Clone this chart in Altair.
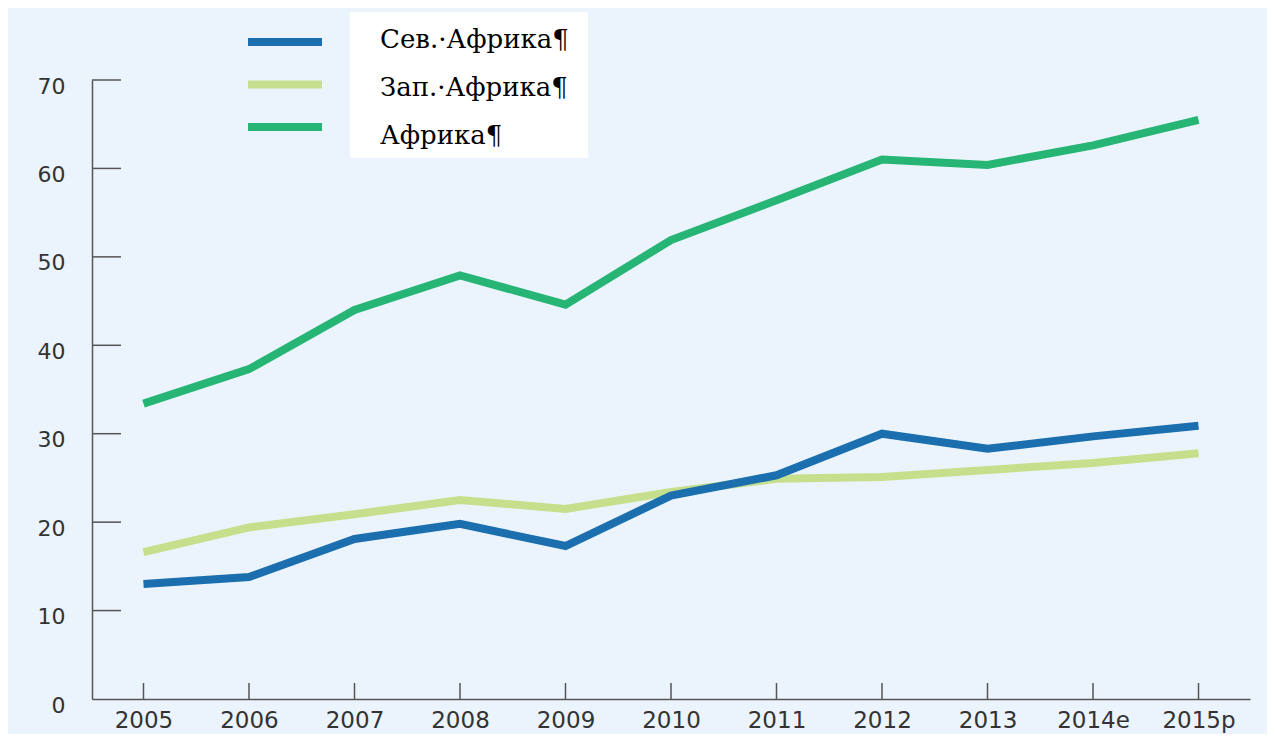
import altair as alt
import pandas as pd

years = ["2005", "2006", "2007", "2008", "2009", "2010", "2011", "2012", "2013", "2014e", "2015p"]
series_names = ["Сев.·Африка¶", "Зап.·Африка¶", "Африка¶"]
north = [13.0, 13.8, 18.1, 19.8, 17.3, 23.0, 25.3, 30.0, 28.3, 29.7, 30.9]
west = [16.6, 19.4, 20.9, 22.5, 21.5, 23.4, 24.9, 25.1, 25.9, 26.7, 27.8]
africa = [33.4, 37.3, 44.0, 47.9, 44.6, 51.9, 56.4, 61.0, 60.4, 62.6, 65.5]
colors = ["#1B6FAE", "#C5DF8D", "#26B574"]
y_ticks = [0, 10, 20, 30, 40, 50, 60, 70]

rows = []
for name, vals in [(series_names[1], west), (series_names[0], north), (series_names[2], africa)]:
    for yr, v in zip(years, vals):
        rows.append({"year": yr, "value": v, "series": name})
df = pd.DataFrame(rows)
legend_df = pd.DataFrame({"series": series_names})

W, H = 1158, 619
AX = "#555555"
FONT = "DejaVu Sans"

yscale = alt.Scale(domain=[0, 70], nice=False, zero=True)
xscale = alt.Scale(type="point", padding=0.488)
cscale = alt.Scale(domain=series_names, range=colors)

x_axis = alt.Axis(title=None, labelAngle=0, ticks=False, tickSize=0,
                  labelPadding=10, labelFont=FONT, labelFontSize=23,
                  labelColor="#333333", domainColor=AX, domainWidth=1.5, grid=False)
y_axis = alt.Axis(title=None, values=y_ticks, ticks=False, tickSize=0,
                  labelPadding=27, labelOffset=6, labelFont=FONT,
                  labelFontSize=22, labelColor="#333333",
                  domainColor=AX, domainWidth=1.5, grid=False)

lines = alt.Chart(df).mark_line(strokeWidth=8, strokeCap="butt", strokeJoin="miter").encode(
    x=alt.X("year:O", sort=years, scale=xscale, axis=x_axis),
    y=alt.Y("value:Q", scale=yscale, axis=y_axis),
    color=alt.Color("series:N", scale=cscale, legend=None),
)

ytick_rules = alt.Chart(pd.DataFrame({"value": y_ticks[1:]})).mark_rule(
    color=AX, strokeWidth=1.5
).encode(
    y=alt.Y("value:Q", scale=yscale, axis=y_axis),
    x=alt.value(0), x2=alt.value(29),
)

xtick_rules = alt.Chart(pd.DataFrame({"year": years})).mark_rule(
    color=AX, strokeWidth=1.5
).encode(
    x=alt.X("year:O", sort=years, scale=xscale, axis=x_axis),
    y=alt.value(H - 16), y2=alt.value(H),
)

main = alt.layer(lines, ytick_rules, xtick_rules)

box = alt.Chart(pd.DataFrame({"a": [0]})).mark_rect(color="white").encode(
    x=alt.value(258), x2=alt.value(496), y=alt.value(-68), y2=alt.value(78)
)

legend_lines = alt.Chart(legend_df).mark_rule(strokeWidth=8, strokeCap="butt").encode(
    y=alt.Y("series:N", sort=series_names,
            scale=alt.Scale(type="point", padding=0, range=[-38, 47]), axis=None),
    x=alt.value(156), x2=alt.value(230),
    color=alt.Color("series:N", scale=cscale, legend=None),
)

legend_text = alt.Chart(legend_df).mark_text(
    align="left", baseline="middle", font="DejaVu Serif", fontSize=26, color="#000000"
).encode(
    y=alt.Y("series:N", sort=series_names,
            scale=alt.Scale(type="point", padding=0, range=[-40, 56]), axis=None),
    x=alt.value(288),
    text="series:N",
)

chart = alt.layer(box, main, legend_lines, legend_text).resolve_scale(
    y="independent"
).properties(
    width=W, height=H,
    padding={"left": 84, "top": 72, "right": 17, "bottom": 35},
    autosize=alt.AutoSizeParams(type="none"),
    background="#EBF4FC",
).configure_view(stroke=None)

chart.save("out.html", embed_options={"renderer": "svg", "actions": False})
